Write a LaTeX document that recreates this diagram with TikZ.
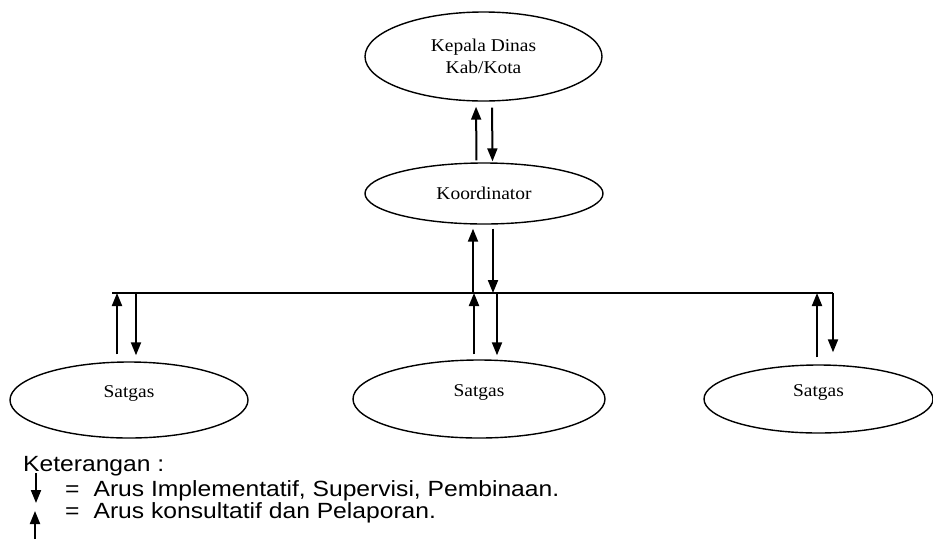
\documentclass[tikz,border=0pt]{standalone}
\usepackage{fontspec}
\setmainfont{Liberation Serif}[FakeStretch=1.08]
\newfontfamily\legendfont{Liberation Sans}[FakeStretch=1.12]
\usetikzlibrary{arrows.meta, shapes.geometric, positioning}

\begin{document}
\begin{tikzpicture}[
    x=1pt, y=-1pt,
    unit/.style={ellipse, draw, line width=1.4pt, inner sep=0pt, font=\fontsize{18}{22}\selectfont, align=center},
    satgas/.style={unit, text depth=16pt},
    arrow/.style={-{Triangle[length=13pt, width=10pt]}, line width=2pt},
    bus/.style={line width=2pt},
    legend/.style={font=\legendfont\fontsize{22}{24}\selectfont, anchor=base west, inner sep=0pt}
]
    \useasboundingbox (0,0) rectangle (933,539);

    % Nodes
    \node[unit, minimum width=237pt, minimum height=89pt] (kepala) at (483.5,56.5) {Kepala Dinas\\Kab/Kota};
    \node[unit, minimum width=238pt, minimum height=61pt] (koord) at (484,193.5) {Koordinator};
    \node[satgas, minimum width=238pt, minimum height=76pt] (sat1) at (129,400) {Satgas};
    \node[satgas, minimum width=252pt, minimum height=78pt] (sat2) at (479,399) {Satgas};
    \node[satgas, minimum width=229pt, minimum height=68pt] (sat3) at (818.5,399) {Satgas};

    % Bus line
    \coordinate (busL) at (112,293);
    \coordinate (busR) at (833,293);
    \draw[bus] (busL) -- (busR);

    % Arrows
    \draw[arrow, shorten <=2pt, shorten >=5pt] ([xshift=-7.5pt]koord.north) -- ([xshift=-7.5pt]kepala.south);
    \draw[arrow, shorten <=6pt, shorten >=1pt] ([xshift=8.5pt]kepala.south) -- ([xshift=8.5pt]koord.north);
    \draw[arrow, shorten >=4pt] ([xshift=-11pt]koord.south |- busL) -- ([xshift=-11pt]koord.south);
    \draw[arrow, shorten <=4pt] ([xshift=9pt]koord.south) -- ([xshift=9pt]koord.south |- busL);

    \draw[arrow, shorten <=7pt] ([xshift=-12pt]sat1.north) -- ([xshift=-12pt]sat1.north |- busL);
    \draw[arrow, shorten >=6pt] ([xshift=7pt]sat1.north |- busL) -- ([xshift=7pt]sat1.north);
    \draw[arrow, shorten <=5pt] ([xshift=-5pt]sat2.north) -- ([xshift=-5pt]sat2.north |- busL);
    \draw[arrow, shorten >=4pt] ([xshift=18pt]sat2.north |- busL) -- ([xshift=18pt]sat2.north);
    \draw[arrow, shorten <=7pt] ([xshift=-1.5pt]sat3.north) -- ([xshift=-1.5pt]sat3.north |- busL);
    \draw[arrow, shorten >=12pt] (busR) -- (busR |- sat3.north);

    % Legend
    \node[legend] (ket) at (23,471) {Keterangan :};
    \node[legend] (impl) at (65,496) {=\hspace{14pt}Arus Implementatif, Supervisi, Pembinaan.};
    \node[legend] (kons) at (65,518) {=\hspace{14pt}Arus konsultatif dan Pelaporan.};
    \coordinate (dn0) at (36,473);
    \coordinate (dn1) at (36,503);
    \coordinate (up0) at (35,539);
    \coordinate (up1) at (35,511);
    \draw[arrow] (dn0) -- (dn1);
    \draw[arrow] (up0) -- (up1);
\end{tikzpicture}
\end{document}
